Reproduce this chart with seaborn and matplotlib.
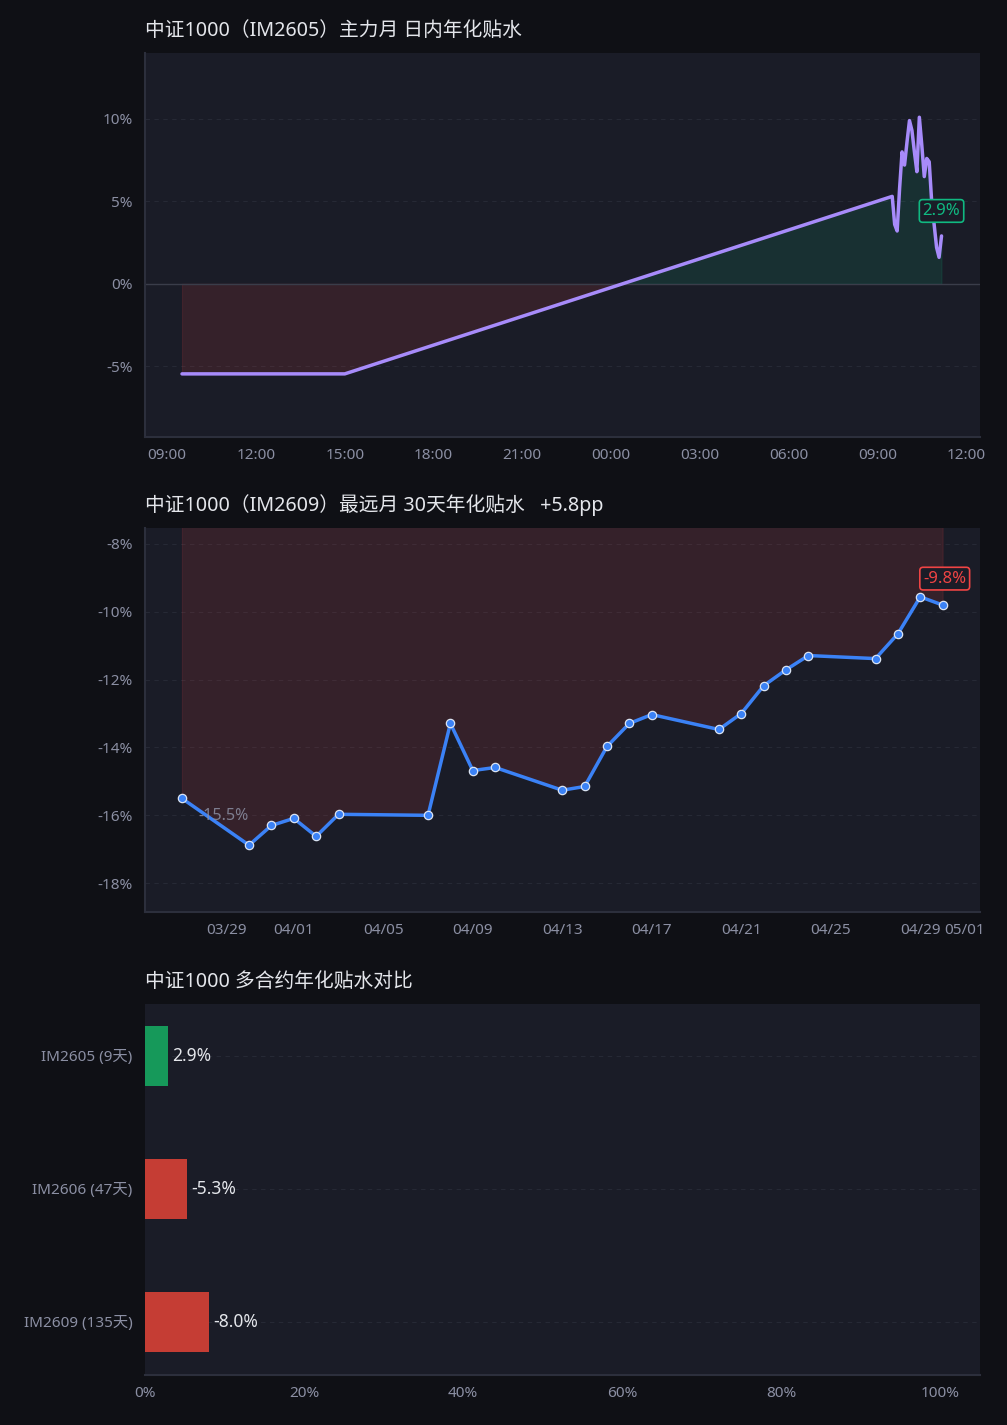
import matplotlib
matplotlib.use("Agg")
import matplotlib.pyplot as plt
import matplotlib.dates as mdates
from matplotlib.ticker import FuncFormatter, MultipleLocator
import numpy as np
import pandas as pd
import seaborn as sns

# ---- data ----
intraday_time = ['2026-04-29 09:30', '2026-04-29 15:00',
                 '2026-04-30 09:30', '2026-04-30 09:35', '2026-04-30 09:40', '2026-04-30 09:45',
                 '2026-04-30 09:50', '2026-04-30 09:55', '2026-04-30 10:00', '2026-04-30 10:05',
                 '2026-04-30 10:10', '2026-04-30 10:15', '2026-04-30 10:20', '2026-04-30 10:25',
                 '2026-04-30 10:30', '2026-04-30 10:35', '2026-04-30 10:40', '2026-04-30 10:45',
                 '2026-04-30 10:50', '2026-04-30 10:55', '2026-04-30 11:00', '2026-04-30 11:05',
                 '2026-04-30 11:10']
intraday_basis = [-5.47, -5.47,
                  5.3, 3.6, 3.2, 5.8,
                  8.0, 7.2, 8.6, 9.9,
                  9.3, 8.0, 6.8, 10.1,
                  8.4, 6.5, 7.6, 7.4,
                  5.0, 3.6, 2.2, 1.6,
                  2.9]

far_dates = ['2026-03-27', '2026-03-30', '2026-03-31', '2026-04-01', '2026-04-02', '2026-04-03',
             '2026-04-07', '2026-04-08', '2026-04-09', '2026-04-10', '2026-04-13', '2026-04-14',
             '2026-04-15', '2026-04-16', '2026-04-17', '2026-04-20', '2026-04-21', '2026-04-22',
             '2026-04-23', '2026-04-24', '2026-04-27', '2026-04-28', '2026-04-29', '2026-04-30']
far_basis = [-15.5, -16.88, -16.3, -16.09, -16.62, -15.97,
             -16.0, -13.29, -14.68, -14.59, -15.26, -15.15,
             -13.97, -13.29, -13.03, -13.47, -13.0, -12.18,
             -11.71, -11.29, -11.38, -10.65, -9.56, -9.8]
far_change = '+5.8pp'

contracts = ['IM2605 (9天)', 'IM2606 (47天)', 'IM2609 (135天)']
contract_basis = [2.9, -5.3, -8.0]

# ---- style ----
BG = '#0f1015'
PANEL = '#1a1c27'
GRID = '#262935'
SPINE = '#2c2f3c'
TICK = '#8b8fa3'
TITLE = '#e4e6eb'
PURPLE = '#a78bfa'
BLUE = '#3b82f6'
RED = '#ef4444'
GREEN = '#10b981'

sns.set_theme(style='dark')
plt.rcParams['font.family'] = ['Noto Sans', 'Noto Sans CJK SC', 'DejaVu Sans']
plt.rcParams['axes.unicode_minus'] = False

fig = plt.figure(figsize=(10.07, 14.25), dpi=100, facecolor=BG)
L, W = 145 / 1007, (980 - 145) / 1007
H = 1425
ax1 = fig.add_axes([L, 1 - 437 / H, W, (437 - 53) / H])
ax2 = fig.add_axes([L, 1 - 912 / H, W, (912 - 528) / H])
ax3 = fig.add_axes([L, 1 - 1375 / H, W, (1375 - 1004) / H])


def style_axes(ax):
    ax.set_facecolor(PANEL)
    for s in ['top', 'right']:
        ax.spines[s].set_visible(False)
    for s in ['left', 'bottom']:
        ax.spines[s].set_color(SPINE)
        ax.spines[s].set_linewidth(1.5)
    ax.tick_params(colors=TICK, labelsize=11, length=0)
    ax.tick_params(axis='y', pad=9)
    ax.tick_params(axis='x', pad=8)
    ax.grid(False)
    ax.set_xlabel('')
    ax.set_ylabel('')


pct = FuncFormatter(lambda v, p: f'{v:.0f}%')

# ---- panel 1: intraday ----
df1 = pd.DataFrame({'time': pd.to_datetime(intraday_time), 'basis': intraday_basis})
xn = mdates.date2num(df1['time'])
yv = np.array(intraday_basis)
ax1.fill_between(xn, yv, 0, where=yv < 0, interpolate=True, color=RED, alpha=0.13, linewidth=0.8)
ax1.fill_between(xn, yv, 0, where=yv > 0, interpolate=True, color=GREEN, alpha=0.13, linewidth=0.8)
ax1.axhline(0, color='#3a3d4a', linewidth=1)
sns.lineplot(data=df1, x='time', y='basis', ax=ax1, color=PURPLE, linewidth=2.5)
style_axes(ax1)
for v in [-5, 5, 10]:
    ax1.axhline(v, color=GRID, linewidth=0.8, linestyle=(0, (4, 4)), zorder=0.5)
ax1.set_ylim(-9.3, 14.0)
ax1.set_xlim(mdates.date2num(pd.Timestamp('2026-04-29 08:15')),
             mdates.date2num(pd.Timestamp('2026-04-30 12:28')))
ax1.yaxis.set_major_locator(MultipleLocator(5))
ax1.yaxis.set_major_formatter(pct)
ax1.xaxis.set_major_locator(mdates.HourLocator(byhour=range(0, 24, 3)))
ax1.xaxis.set_major_formatter(mdates.DateFormatter('%H:%M'))
ax1.set_title('中证1000（IM2605）主力月 日内年化贴水', loc='left', color=TITLE, fontsize=14.2, pad=12)
ax1.annotate(f'{intraday_basis[-1]:.1f}%', xy=(xn[-1], yv[-1]), xytext=(0, 18),
             textcoords='offset points', ha='center', va='center', color=GREEN, fontsize=12,
             bbox=dict(boxstyle='round,pad=0.2', fc=PANEL, ec=GREEN, lw=1.2))

# ---- panel 2: far month ----
df2 = pd.DataFrame({'date': pd.to_datetime(far_dates), 'basis': far_basis})
xd = mdates.date2num(df2['date'])
yd = np.array(far_basis)
ax2.fill_between(xd, yd, 0, color=RED, alpha=0.13, linewidth=0.8)
sns.lineplot(data=df2, x='date', y='basis', ax=ax2, color=BLUE, linewidth=2.5,
             marker='o', markersize=6, markerfacecolor=BLUE, markeredgecolor='#dbe4f3',
             markeredgewidth=0.9)
style_axes(ax2)
for v in range(-18, -7, 2):
    ax2.axhline(v, color=GRID, linewidth=0.8, linestyle=(0, (4, 4)), zorder=0.5)
ax2.set_ylim(-18.85, -7.53)
ax2.set_xlim(xd[0] - 1.65, mdates.date2num(pd.Timestamp('2026-05-01')) + 0.67)
ax2.yaxis.set_major_locator(MultipleLocator(2))
ax2.yaxis.set_major_formatter(pct)
ax2.xaxis.set_major_locator(mdates.DayLocator(bymonthday=range(1, 32, 4)))
ax2.xaxis.set_major_formatter(mdates.DateFormatter('%m/%d'))
ax2.set_title(f'中证1000（IM2609）最远月 30天年化贴水   {far_change}', loc='left',
              color=TITLE, fontsize=14.2, pad=12)
ax2.annotate(f'{far_basis[0]:.1f}%', xy=(xd[0], yd[0]), xytext=(12, -13),
             textcoords='offset points', ha='left', va='center', color=TICK, fontsize=11.5,
             alpha=0.85)
ax2.annotate(f'{far_basis[-1]:.1f}%', xy=(xd[-1], yd[-1]), xytext=(1.5, 19),
             textcoords='offset points', ha='center', va='center', color=RED, fontsize=12,
             bbox=dict(boxstyle='round,pad=0.2', fc=PANEL, ec=RED, lw=1.2))

# ---- panel 3: contracts ----
df3 = pd.DataFrame({'contract': contracts, 'basis': contract_basis})
df3['size'] = df3['basis'].abs()
bar_colors = ['#16995a' if v > 0 else '#c53d34' for v in contract_basis]
sns.barplot(data=df3, x='size', y='contract', hue='contract', palette=bar_colors,
            orient='h', width=0.45, legend=False, ax=ax3, saturation=1, linewidth=0)
style_axes(ax3)
for i in range(len(contracts)):
    ax3.axhline(i, color=GRID, linewidth=0.8, linestyle=(0, (4, 4)), zorder=0.5)
for i, (s, v) in enumerate(zip(df3['size'], contract_basis)):
    ax3.text(s + 0.55, i, f'{v:.1f}%', color=TITLE, fontsize=12.5, va='center', ha='left')
ax3.set_xlim(0, 105)
ax3.set_ylim(2.4, -0.39)
ax3.xaxis.set_major_locator(MultipleLocator(20))
ax3.xaxis.set_major_formatter(pct)
ax3.spines['left'].set_visible(False)
ax3.set_title('中证1000 多合约年化贴水对比', loc='left', color=TITLE, fontsize=14.2, pad=12)

fig.savefig('out.png', dpi=100, facecolor=BG)
